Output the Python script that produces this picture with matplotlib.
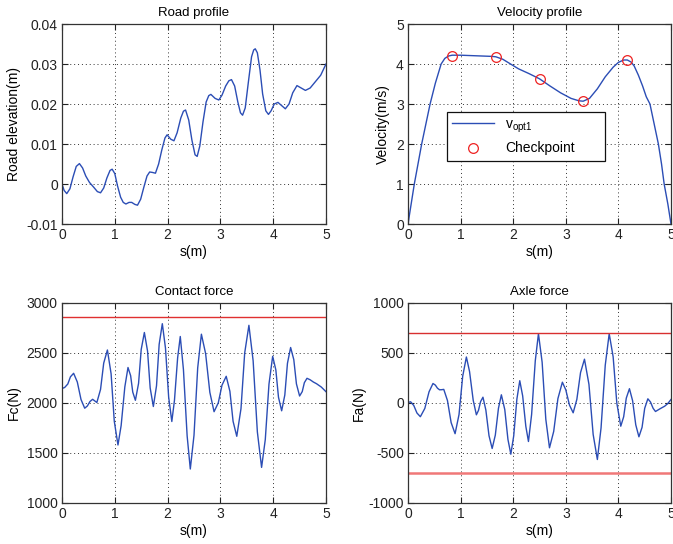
import matplotlib
matplotlib.use('Agg')
import matplotlib.pyplot as plt

plt.rcParams['font.family'] = ['Liberation Sans', 'DejaVu Sans']
plt.rcParams['font.size'] = 9.5
plt.rcParams['axes.unicode_minus'] = False
plt.rcParams['mathtext.fontset'] = 'custom'
plt.rcParams['mathtext.rm'] = 'Liberation Sans'

# --- road profile (s, elevation)
road_s = [0.00, 0.04, 0.09, 0.15, 0.21, 0.27, 0.33, 0.39, 0.45, 0.52, 0.60, 0.67, 0.73,
          0.79, 0.85, 0.91, 0.95, 1.00, 1.05, 1.11, 1.16, 1.21, 1.27, 1.32, 1.38, 1.43,
          1.49, 1.55, 1.61, 1.66, 1.71, 1.77, 1.83, 1.89, 1.95, 1.99, 2.06, 2.12, 2.18,
          2.25, 2.30, 2.34, 2.40, 2.46, 2.52, 2.56, 2.61, 2.67, 2.73, 2.78, 2.82, 2.90,
          2.97, 3.03, 3.10, 3.16, 3.21, 3.27, 3.33, 3.38, 3.42, 3.47, 3.53, 3.59, 3.63,
          3.66, 3.70, 3.75, 3.80, 3.86, 3.91, 3.96, 4.02, 4.09, 4.16, 4.23, 4.30, 4.37,
          4.45, 4.53, 4.61, 4.70, 4.80, 4.90, 5.00]
road_z = [0.0000, -0.0016, -0.0024, -0.0012, 0.0018, 0.0044, 0.0051, 0.0040, 0.0020,
          0.0004, -0.0008, -0.0019, -0.0022, -0.0010, 0.0015, 0.0034, 0.0037, 0.0026,
          -0.0004, -0.0033, -0.0046, -0.0050, -0.0046, -0.0046, -0.0051, -0.0053,
          -0.0038, -0.0008, 0.0020, 0.0030, 0.0029, 0.0027, 0.0050, 0.0085, 0.0115,
          0.0123, 0.0112, 0.0108, 0.0128, 0.0165, 0.0182, 0.0185, 0.0160, 0.0110,
          0.0073, 0.0069, 0.0095, 0.0155, 0.0205, 0.0221, 0.0224, 0.0214, 0.0210,
          0.0222, 0.0245, 0.0258, 0.0261, 0.0245, 0.0205, 0.0178, 0.0172, 0.0190,
          0.0255, 0.0318, 0.0335, 0.0338, 0.0328, 0.0285, 0.0225, 0.0183, 0.0174,
          0.0183, 0.0200, 0.0204, 0.0196, 0.0188, 0.0200, 0.0228, 0.0246, 0.0240,
          0.0234, 0.0240, 0.0256, 0.0272, 0.0300]

# --- velocity profile
vel_s = [0.00, 0.06, 0.12, 0.19, 0.26, 0.34, 0.42, 0.52, 0.63, 0.70, 0.77, 0.84, 1.00,
         1.20, 1.40, 1.60, 1.67, 1.80, 1.95, 2.10, 2.30, 2.50, 2.70, 2.90, 3.10, 3.25,
         3.33, 3.45, 3.60, 3.75, 3.90, 4.00, 4.10, 4.17, 4.24, 4.30, 4.38, 4.46, 4.53,
         4.60, 4.68, 4.76, 4.82, 4.87, 4.94, 5.00]
vel_v = [0.00, 0.50, 1.00, 1.50, 2.00, 2.50, 3.00, 3.52, 4.00, 4.14, 4.20, 4.22, 4.22,
         4.21, 4.20, 4.19, 4.18, 4.12, 4.00, 3.88, 3.76, 3.63, 3.45, 3.28, 3.14, 3.08,
         3.07, 3.14, 3.38, 3.68, 3.92, 4.04, 4.10, 4.10, 4.05, 3.95, 3.72, 3.45, 3.18,
         3.00, 2.50, 2.00, 1.50, 1.00, 0.50, 0.00]
check_s = [0.833, 1.667, 2.500, 3.333, 4.167]
check_v = [4.21, 4.18, 3.63, 3.075, 4.10]

# --- contact force
fc_s = [0.00, 0.05, 0.11, 0.16, 0.22, 0.29, 0.36, 0.43, 0.48, 0.53, 0.58, 0.62, 0.66,
        0.73, 0.79, 0.86, 0.93, 0.99, 1.06, 1.12, 1.19, 1.25, 1.30, 1.34, 1.39, 1.45,
        1.50, 1.56, 1.62, 1.67, 1.73, 1.79, 1.84, 1.90, 1.96, 2.02, 2.08, 2.13, 2.19,
        2.24, 2.30, 2.37, 2.43, 2.50, 2.57, 2.64, 2.72, 2.80, 2.88, 2.96, 3.03, 3.11,
        3.18, 3.24, 3.31, 3.39, 3.46, 3.54, 3.62, 3.70, 3.78, 3.85, 3.92, 3.99, 4.05,
        4.10, 4.16, 4.22, 4.27, 4.33, 4.39, 4.44, 4.50, 4.55, 4.59, 4.64, 4.70, 4.76,
        4.82, 4.91, 5.00]
fc_v = [2145, 2155, 2190, 2262, 2297, 2210, 2035, 1948, 1970, 2015, 2037, 2021, 2005,
        2136, 2399, 2530, 2292, 1818, 1580, 1774, 2161, 2355, 2273, 2109, 2027, 2196,
        2535, 2705, 2520, 2150, 1965, 2172, 2586, 2793, 2548, 2059, 1815, 2027, 2452,
        2665, 2334, 1671, 1340, 1677, 2351, 2688, 2494, 2107, 1913, 2002, 2178, 2267,
        2117, 1817, 1667, 1944, 2500, 2777, 2422, 1711, 1356, 1634, 2189, 2467, 2331,
        2058, 1922, 2080, 2397, 2555, 2434, 2191, 2070, 2114, 2203, 2247, 2232, 2210,
        2193, 2160, 2113]
fc_limit = 2855

# --- axle force
fa_s = [0.00, 0.05, 0.11, 0.17, 0.235, 0.32, 0.40, 0.475, 0.52, 0.56, 0.60, 0.64, 0.68,
        0.75, 0.82, 0.895, 0.97, 1.04, 1.11, 1.17, 1.24, 1.30, 1.34, 1.38, 1.425, 1.48,
        1.54, 1.60, 1.66, 1.72, 1.775, 1.84, 1.90, 1.955, 2.01, 2.07, 2.125, 2.18, 2.24,
        2.29, 2.35, 2.42, 2.48, 2.55, 2.62, 2.69, 2.77, 2.85, 2.935, 3.00, 3.07, 3.14,
        3.21, 3.28, 3.355, 3.44, 3.52, 3.60, 3.67, 3.75, 3.825, 3.90, 3.97, 4.045, 4.10,
        4.15, 4.21, 4.27, 4.33, 4.39, 4.45, 4.50, 4.56, 4.61, 4.66, 4.705, 4.80, 4.88,
        4.94, 5.00]
fa_v = [5, 12, -25, -100, -137, -54, 112, 195, 179, 148, 132, 133, 136, 25, -196, -307,
        -115, 268, 460, 315, 26, -118, -74, 14, 58, -70, -327, -455, -321, -52, 82, -66,
        -364, -512, -328, 39, 223, 71, -233, -385, -115, 423, 693, 408, -163, -448, -284,
        44, 208, 131, -21, -98, 36, 304, 438, 187, -314, -565, -250, 378, 693, 462, -1,
        -232, -138, 49, 143, 23, -218, -338, -243, -53, 42, 10, -53, -85, -55, -32, -5, 35]
fa_limit = 700

blue = '#2b4db5'
fig = plt.figure(figsize=(6.73, 5.44), dpi=100)
W, H = 673, 544


def make_axes(x0, y0, x1, y1):
    ax = fig.add_axes([x0 / W, 1 - y1 / H, (x1 - x0) / W, (y1 - y0) / H])
    ax.grid(True, color='#333333', linestyle=(0, (1, 3)), linewidth=0.7)
    ax.tick_params(direction='in', top=True, right=True, length=4, pad=3,
                   colors='#222222', labelsize=10)
    for sp in ax.spines.values():
        sp.set_color('#333333')
        sp.set_linewidth(0.9)
    ax.set_xlim(0, 5)
    ax.set_xticks([0, 1, 2, 3, 4, 5])
    ax.set_xlabel('s(m)', labelpad=2, fontsize=10)
    return ax


ax1 = make_axes(62, 24, 326, 224)
ax1.plot(road_s, road_z, color=blue, linewidth=1)
ax1.set_ylim(-0.01, 0.04)
ax1.set_yticks([-0.01, 0, 0.01, 0.02, 0.03, 0.04])
ax1.set_yticklabels(['-0.01', '0', '0.01', '0.02', '0.03', '0.04'])
ax1.set_ylabel('Road elevation(m)', fontsize=10)
ax1.set_title('Road profile', fontsize=9.5)

ax2 = make_axes(408, 24, 671, 224)
ax2.plot(vel_s, vel_v, color=blue, linewidth=1, label=r'v$_{\mathrm{opt1}}$')
ax2.plot(check_s, check_v, 'o', markerfacecolor='none', markeredgecolor='#ee2222',
         markersize=7, markeredgewidth=0.9, label='Checkpoint')
ax2.set_ylim(0, 5)
ax2.set_yticks([0, 1, 2, 3, 4, 5])
ax2.set_ylabel('Velocity(m/s)', fontsize=10)
ax2.set_title('Velocity profile', fontsize=9.5)
leg = ax2.legend(loc='lower left', bbox_to_anchor=(0.147, 0.315, 0.603, 0.25),
                 mode='expand', fancybox=False, edgecolor='#111111', framealpha=1,
                 fontsize=10, handlelength=3, borderaxespad=0, labelspacing=0.5)
leg.get_frame().set_linewidth(0.9)

ax3 = make_axes(62, 303, 326, 503)
ax3.plot(fc_s, fc_v, color=blue, linewidth=1)
ax3.axhline(fc_limit, color='#e03030', linewidth=1)
ax3.set_ylim(1000, 3000)
ax3.set_yticks([1000, 1500, 2000, 2500, 3000])
ax3.set_ylabel('Fc(N)', fontsize=10)
ax3.set_title('Contact force', fontsize=9.5)

ax4 = make_axes(408, 303, 671, 503)
ax4.plot(fa_s, fa_v, color=blue, linewidth=1)
ax4.axhline(fa_limit, color='#d83030', linewidth=1)
ax4.axhline(-fa_limit, color='#f07878', linewidth=1.8)
ax4.set_ylim(-1000, 1000)
ax4.set_yticks([-1000, -500, 0, 500, 1000])
ax4.set_ylabel('Fa(N)', labelpad=2, fontsize=10)
ax4.set_title('Axle force', fontsize=9.5)

fig.savefig('out.png', dpi=100)
